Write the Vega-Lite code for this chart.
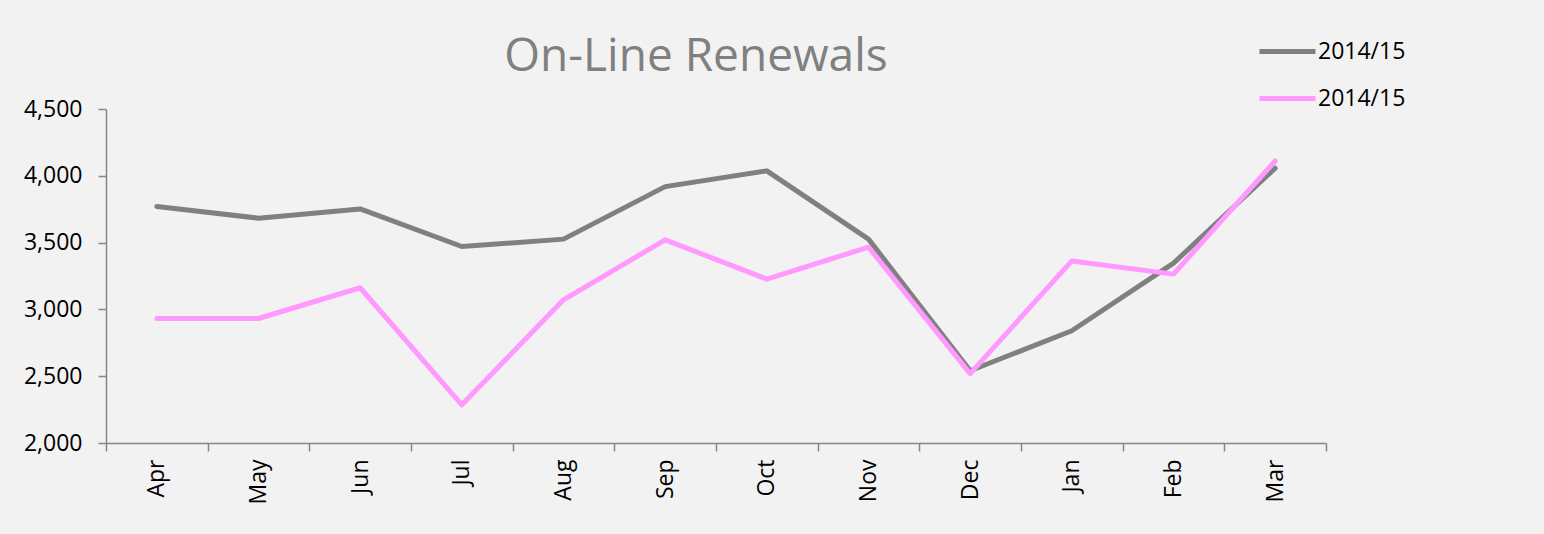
{
  "$schema": "https://vega.github.io/schema/vega-lite/v6.json",
  "autosize": "none",
  "width": 1220,
  "height": 334,
  "padding": {"left": 106, "top": 109, "right": 218, "bottom": 91},
  "background": "#f2f2f2",
  "title": {
    "text": "On-Line Renewals",
    "font": "Open Sans",
    "fontSize": 46,
    "fontWeight": "normal",
    "color": "#808080",
    "anchor": "middle",
    "baseline": "alphabetic",
    "offset": 0,
    "dx": -20,
    "dy": 96
  },
  "config": {
    "view": {"stroke": null},
    "font": "Open Sans"
  },
  "data": {
    "values": [
      {"month": "Apr", "series": "A", "value": 3770},
      {"month": "May", "series": "A", "value": 3683},
      {"month": "Jun", "series": "A", "value": 3752},
      {"month": "Jul", "series": "A", "value": 3471},
      {"month": "Aug", "series": "A", "value": 3526},
      {"month": "Sep", "series": "A", "value": 3919},
      {"month": "Oct", "series": "A", "value": 4037},
      {"month": "Nov", "series": "A", "value": 3526},
      {"month": "Dec", "series": "A", "value": 2541},
      {"month": "Jan", "series": "A", "value": 2840},
      {"month": "Feb", "series": "A", "value": 3346},
      {"month": "Mar", "series": "A", "value": 4057},
      {"month": "Apr", "series": "B", "value": 2932},
      {"month": "May", "series": "B", "value": 2932},
      {"month": "Jun", "series": "B", "value": 3162},
      {"month": "Jul", "series": "B", "value": 2286},
      {"month": "Aug", "series": "B", "value": 3072},
      {"month": "Sep", "series": "B", "value": 3521},
      {"month": "Oct", "series": "B", "value": 3227},
      {"month": "Nov", "series": "B", "value": 3466},
      {"month": "Dec", "series": "B", "value": 2519},
      {"month": "Jan", "series": "B", "value": 3363},
      {"month": "Feb", "series": "B", "value": 3264},
      {"month": "Mar", "series": "B", "value": 4111}
    ]
  },
  "mark": {"type": "line", "strokeWidth": 5, "strokeCap": "round", "strokeJoin": "round"},
  "encoding": {
    "x": {
      "field": "month",
      "type": "nominal",
      "sort": ["Apr", "May", "Jun", "Jul", "Aug", "Sep", "Oct", "Nov", "Dec", "Jan", "Feb", "Mar"],
      "scale": {"type": "band", "paddingInner": 0, "paddingOuter": 0},
      "axis": {
        "title": null,
        "tickBand": "extent",
        "labelAngle": -90,
        "labelAlign": "right",
        "labelBaseline": "middle",
        "labelFontSize": 23,
        "labelColor": "#000000",
        "labelPadding": 8,
        "domainColor": "#868686",
        "domainWidth": 1.5,
        "tickColor": "#868686",
        "tickWidth": 1.5,
        "tickSize": 8,
        "grid": false
      }
    },
    "y": {
      "field": "value",
      "type": "quantitative",
      "scale": {"domain": [2000, 4500], "nice": false, "zero": false},
      "axis": {
        "title": null,
        "values": [2000, 2500, 3000, 3500, 4000, 4500],
        "format": ",.0f",
        "labelFontSize": 23,
        "labelColor": "#000000",
        "labelPadding": 16,
        "domainColor": "#868686",
        "domainWidth": 1.5,
        "tickColor": "#868686",
        "tickWidth": 1.5,
        "tickSize": 8,
        "grid": false
      }
    },
    "color": {
      "field": "series",
      "type": "nominal",
      "scale": {"domain": ["A", "B"], "range": ["#808080", "#ff99ff"]},
      "legend": {
        "title": null,
        "orient": "none",
        "legendX": 1151,
        "legendY": -88,
        "labelExpr": "'2014/15'",
        "symbolType": "stroke",
        "symbolSize": 3136,
        "symbolStrokeWidth": 5,
        "labelFontSize": 23,
        "labelColor": "#000000",
        "labelOffset": 0,
        "rowPadding": 4,
        "padding": 0
      }
    }
  }
}
